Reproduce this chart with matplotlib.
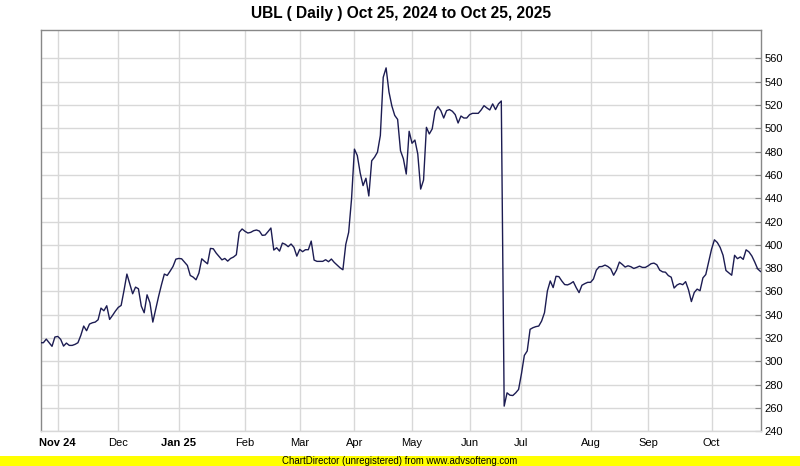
import matplotlib
matplotlib.use("Agg")
import matplotlib.pyplot as plt
from matplotlib.patches import Rectangle

# ---- data (daily closes) ----
title = "UBL ( Daily ) Oct 25, 2024 to Oct 25, 2025"

close_part1 = [
    316.0, 316.0, 319.1, 316.0, 312.9, 320.9, 321.4, 318.9, 313.1, 315.7,
    313.7, 313.7, 314.6, 316.0, 322.3, 330.3, 326.3, 332.0, 333.1, 333.7,
    335.7, 345.7, 343.4, 347.7, 336.0, 339.4, 343.1, 346.3, 348.0, 360.9,
    374.9, 366.6, 358.0, 363.7, 362.3, 347.4, 341.7, 357.1, 350.3, 333.7,
    344.6, 355.7, 365.7, 374.9, 373.7, 377.4, 381.4, 387.7, 388.3, 388.0,
    385.1, 382.3, 373.7, 372.3, 370.0, 375.7, 388.0, 385.7, 383.7, 396.9,
    396.6, 392.9, 390.0, 387.1, 388.3,
]
close_part2 = [
    386.0, 388.3, 389.5, 391.5, 410.7, 413.6, 411.6, 410.1, 410.7, 412.1,
    412.7, 411.8, 408.1, 408.4, 411.3, 414.4, 395.5, 397.5, 394.6, 401.5,
    400.4, 398.4, 400.7, 397.8, 390.3, 396.1, 394.1, 395.8, 395.8, 403.2,
    386.9, 385.8, 385.8, 385.8, 387.2, 385.5, 387.8, 384.9, 382.6, 380.3,
    378.6, 400.4, 410.7, 439.4, 482.1, 476.6, 461.7, 450.8, 457.1, 441.9,
    472.1, 475.2, 479.5, 493.8, 543.7, 551.8, 531.1, 519.1, 511.0, 507.6,
    480.7, 473.8,
]
close_part3 = [
    460.7, 497.4, 487.1, 489.9, 477.9, 447.8, 455.5, 500.8, 495.1, 499.4,
    514.6, 518.6, 515.1, 508.8, 515.1, 516.0, 514.6, 511.7, 504.5, 510.5,
    508.8, 508.8, 511.7, 512.8, 512.8, 512.8, 515.7, 519.4, 517.4, 515.7,
    520.9, 516.0, 520.9, 523.4, 261.6, 273.0, 271.0, 270.7, 273.0, 275.9,
    289.4, 305.1, 308.9, 327.5, 328.9, 329.8, 330.3, 334.6, 341.8, 360.4,
    369.0, 363.3, 373.0, 372.7, 369.0, 365.9, 365.6, 366.7, 368.4, 363.3,
    359.0, 365.3,
]
close_part4 = [
    366.7, 367.8, 367.8, 370.7, 378.3, 381.2, 381.4, 382.6, 381.4, 379.4,
    373.9, 378.3, 385.2, 383.2, 380.9, 382.0, 381.2, 379.7, 380.6, 381.7,
    380.6, 380.6, 382.0, 383.8, 384.3, 382.9, 378.3, 376.8, 376.5, 373.6,
    372.2, 362.9, 365.5, 366.7, 365.8, 368.4, 361.4, 351.3, 359.1, 362.0,
    360.6, 371.6, 374.5, 385.2, 396.2, 404.3, 402.0, 397.7, 391.0,
    378.0, 375.9, 373.9, 391.0, 388.1, 389.6, 387.5, 395.7, 393.9,
    390.4, 385.2, 379.4, 377.1,
]
closes = close_part1 + close_part2 + close_part3 + close_part4

month_labels = ["Nov 24", "Dec", "Jan 25", "Feb", "Mar", "Apr", "May",
                "Jun", "Jul", "Aug", "Sep", "Oct"]
month_start_index = [6, 27, 48, 71, 90, 109, 129, 149, 167, 191, 211, 233]
bold_labels = ["Nov 24", "Jan 25"]

y_ticks = list(range(240, 561, 20))

# ---- figure ----
W, H = 800, 466
fig = plt.figure(figsize=(W / 100, H / 100), dpi=100)
plt.rcParams['font.family'] = ['Liberation Sans', 'DejaVu Sans']

left_px, right_px, top_px, bottom_px = 40.5, 760.5, 30, 431.3
ax = fig.add_axes([left_px / W, 1 - bottom_px / H,
                   (right_px - left_px) / W, (bottom_px - top_px) / H])

x = list(range(len(closes)))
ax.plot(x, closes, color='#1c1c52', linewidth=1.0, antialiased=True, zorder=3)

ax.set_xlim(0, len(closes) - 1)
ax.set_ylim(240, 584.3)

grid_c = '#d8d8d8'
ax.set_xticks(month_start_index)
ax.set_xticklabels(month_labels)
for lab in ax.get_xticklabels():
    if lab.get_text() in bold_labels:
        lab.set_fontweight('bold')
ax.tick_params(axis='x', length=0, pad=5, labelsize=8, colors='#000000')

ax.yaxis.tick_right()
ax.set_yticks(y_ticks)
ax.set_yticklabels([str(v) for v in y_ticks])
ax.tick_params(axis='y', direction='in', length=4, width=0.8, color='#888888',
               pad=3, labelsize=8, labelcolor='#000000')
for lab in ax.get_yticklabels():
    lab.set_horizontalalignment('left')

ax.grid(True, color=grid_c, linewidth=1.0, zorder=0)
ax.set_axisbelow(True)
for side in ['left', 'top', 'right']:
    ax.spines[side].set_color('#888888')
    ax.spines[side].set_linewidth(1.0)
ax.spines['bottom'].set_color(grid_c)
ax.spines['bottom'].set_linewidth(1.0)

fig.text(401 / W, 1 - 13.5 / H, title, ha='center', va='center',
         fontsize=11.2, fontweight='bold')

# footer
fig.patches.append(Rectangle((0, 0), 1, 10 / H, transform=fig.transFigure,
                             facecolor='#ffff00', edgecolor='none', zorder=0))
fig.text(0.5, 5 / H, "ChartDirector (unregistered) from www.advsofteng.com",
         ha='center', va='center', fontsize=6.9, color='#000000')

fig.savefig("out.png", dpi=100)
